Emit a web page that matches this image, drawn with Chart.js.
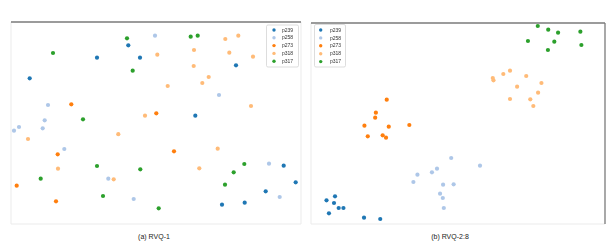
<!DOCTYPE html>
<html>
<head>
<meta charset="utf-8">
<script src="https://cdn.jsdelivr.net/npm/chart.js@4"></script>
<style>
  html, body { margin: 0; padding: 0; background: #fff; }
  body { width: 609px; height: 252px; position: relative; overflow: hidden; font-family: "Liberation Sans", Arial, sans-serif; }
  .box { position: absolute; top: 0; height: 230px; }
  .cap { position: absolute; top: 233px; font-size: 7px; color: #222; text-align: center; width: 120px; }
</style>
</head>
<body>
<div class="box" style="left:0;width:305px"><canvas id="ca" width="305" height="230"></canvas></div>
<div class="box" style="left:305px;width:304px"><canvas id="cb" width="304" height="230"></canvas></div>
<div class="cap" id="capA" style="left:94px"></div>
<div class="cap" id="capB" style="left:390px"></div>
<script>
// ---- labels ----
const seriesLabels = ["p239", "p258", "p273", "p318", "p317"];
const seriesColors = ["#1f77b4", "#aec7e8", "#ff7f0e", "#ffbb78", "#2ca02c"];
const panelTitles = ["(a) RVQ-1", "(b) RVQ-2:8"];

// ---- panel (a) RVQ-1: [x, y] embedding coordinates ----
const a_p239 = [[18.7,145.7],[86,166.3],[117.3,178.7],[129,166.3],[225,158.7],[184.3,108.3],[272.7,58.3],[284.7,41.7],[254.7,32.7],[211,19.3],[233.7,21.3]];
const a_p258 = [[144,188.3],[37,119],[208,129],[33.7,103.7],[8,97],[3,93.3],[31.7,95.7],[53.3,75],[258,60.3],[97.3,45.3],[122.7,25],[268.7,27]];
const a_p273 = [[60.3,119.7],[145.3,110.7],[46.7,69.7],[163,72.7],[5.7,38.3],[45,22.7]];
const a_p318 = [[214.3,185],[227.3,188.3],[183,174],[146.3,169.3],[218.3,171.3],[242,167.3],[182.7,158],[197.7,147],[191.3,141],[156.7,138],[240,118],[134,108.3],[107.3,89.8],[17,85],[206.7,75.3],[47,55.3],[188.3,55.7],[102.7,44.7]];
const a_p317 = [[116,185.7],[179.7,187.3],[186.7,188.3],[42,171],[121.7,153.3],[72,104.7],[86,58],[129.3,54.7],[233.3,60],[222.7,51.7],[29.7,45.3],[214,39.3],[92,28],[147.7,15.7]];

// ---- panel (b) RVQ-2:8 ----
const b_p239 = [[23.7,27.7],[15.3,23.7],[22.7,21],[27.3,16],[32,16],[17.7,10.7],[52.3,6.3],[68.3,5]];
const b_p258 = [[138.3,66],[166.7,58.3],[124.3,55.3],[119.3,51.7],[105,49.3],[101,42],[130.3,39.3],[140.7,39.7],[127.3,30.3],[130,26],[131,16]];
const b_p273 = [[74.7,124.3],[64,111.3],[63.3,106.3],[52.7,98.3],[76.7,97.3],[97,99],[56,87.7],[70.7,88.7],[74,86.3]];
const b_p318 = [[196.3,153.3],[189.7,150],[212.3,148],[179.3,146],[180,143.7],[227.3,141],[203.3,137.3],[224,131.3],[196.3,125],[216.3,124.7],[219.3,118]];
const b_p317 = [[223.7,198],[234,194.3],[243.7,191.3],[265.7,192.3],[214,183],[240,182.3],[266.7,179],[233.7,174]];

const toPts = arr => arr.map(p => ({x: p[0], y: p[1]}));

function makeDatasets(groups) {
  return groups.map((g, i) => ({
    label: seriesLabels[i],
    data: toPts(g),
    backgroundColor: seriesColors[i],
    borderWidth: 0,
    pointRadius: 2.1,
    clip: false
  }));
}

const framePlugin = {
  id: 'frame',
  afterDatasetsDraw(chart, args, opts) {
    const {ctx, chartArea: a} = chart;
    ctx.save();
    const sides = {
      top: [a.left, a.top, a.right, a.top],
      bottom: [a.left, a.bottom, a.right, a.bottom],
      left: [a.left, a.top, a.left, a.bottom],
      right: [a.right, a.top, a.right, a.bottom]
    };
    for (const s of ['bottom','left','right','top']) {
      const dark = opts.dark.includes(s);
      ctx.strokeStyle = dark ? '#7a7a7a' : '#ebebeb';
      ctx.lineWidth = dark ? 1.3 : 1;
      const c = sides[s];
      ctx.beginPath(); ctx.moveTo(c[0], c[1]); ctx.lineTo(c[2], c[3]); ctx.stroke();
    }
    ctx.restore();
  }
};

const legendPlugin = {
  id: 'boxlegend',
  afterDraw(chart, args, o) {
    const ctx = chart.ctx;
    ctx.save();
    ctx.fillStyle = 'rgba(255,255,255,0.85)';
    ctx.strokeStyle = '#d4d4d4';
    ctx.lineWidth = 0.8;
    ctx.beginPath();
    if (ctx.roundRect) ctx.roundRect(o.x0, o.y0, o.w, o.h, 1.5); else ctx.rect(o.x0, o.y0, o.w, o.h);
    ctx.fill(); ctx.stroke();
    ctx.font = '5px "Liberation Sans", Arial, sans-serif';
    ctx.textBaseline = 'middle';
    chart.data.datasets.forEach((ds, i) => {
      const y = o.rowY + i * o.rowH;
      ctx.fillStyle = ds.backgroundColor;
      ctx.beginPath(); ctx.arc(o.mx, y, 1.7, 0, Math.PI * 2); ctx.fill();
      ctx.fillStyle = '#333';
      ctx.fillText(ds.label, o.tx, y + 0.3);
    });
    ctx.restore();
  }
};

function makeChart(id, groups, pad, dark, leg, xr, yr) {
  return new Chart(document.getElementById(id), {
    type: 'scatter',
    data: { datasets: makeDatasets(groups) },
    options: {
      responsive: false,
      animation: false,
      devicePixelRatio: 1,
      layout: { padding: pad },
      scales: {
        x: { display: false, min: xr[0], max: xr[1] },
        y: { display: false, min: yr[0], max: yr[1] }
      },
      plugins: {
        legend: { display: false },
        tooltip: { enabled: false },
        frame: { dark: dark },
        boxlegend: leg
      }
    },
    plugins: [framePlugin, legendPlugin]
  });
}

makeChart('ca', [a_p239, a_p258, a_p273, a_p318, a_p317],
  {left: 11, top: 22, right: 4, bottom: 6}, ['top'],
  {x0: 266.5, y0: 25, w: 32, h: 42, mx: 274, tx: 282, rowY: 30, rowH: 7.8},
  [0, 290], [0, 202]);

makeChart('cb', [b_p239, b_p258, b_p273, b_p318, b_p317],
  {left: 6, top: 23, right: 3, bottom: 6}, ['top', 'right'],
  {x0: 9.5, y0: 24.5, w: 31, h: 42.5, mx: 15.7, tx: 25, rowY: 30, rowH: 7.9},
  [0, 290], [0, 201]);

document.getElementById('capA').textContent = panelTitles[0];
document.getElementById('capB').textContent = panelTitles[1];
</script>
</body>
</html>
